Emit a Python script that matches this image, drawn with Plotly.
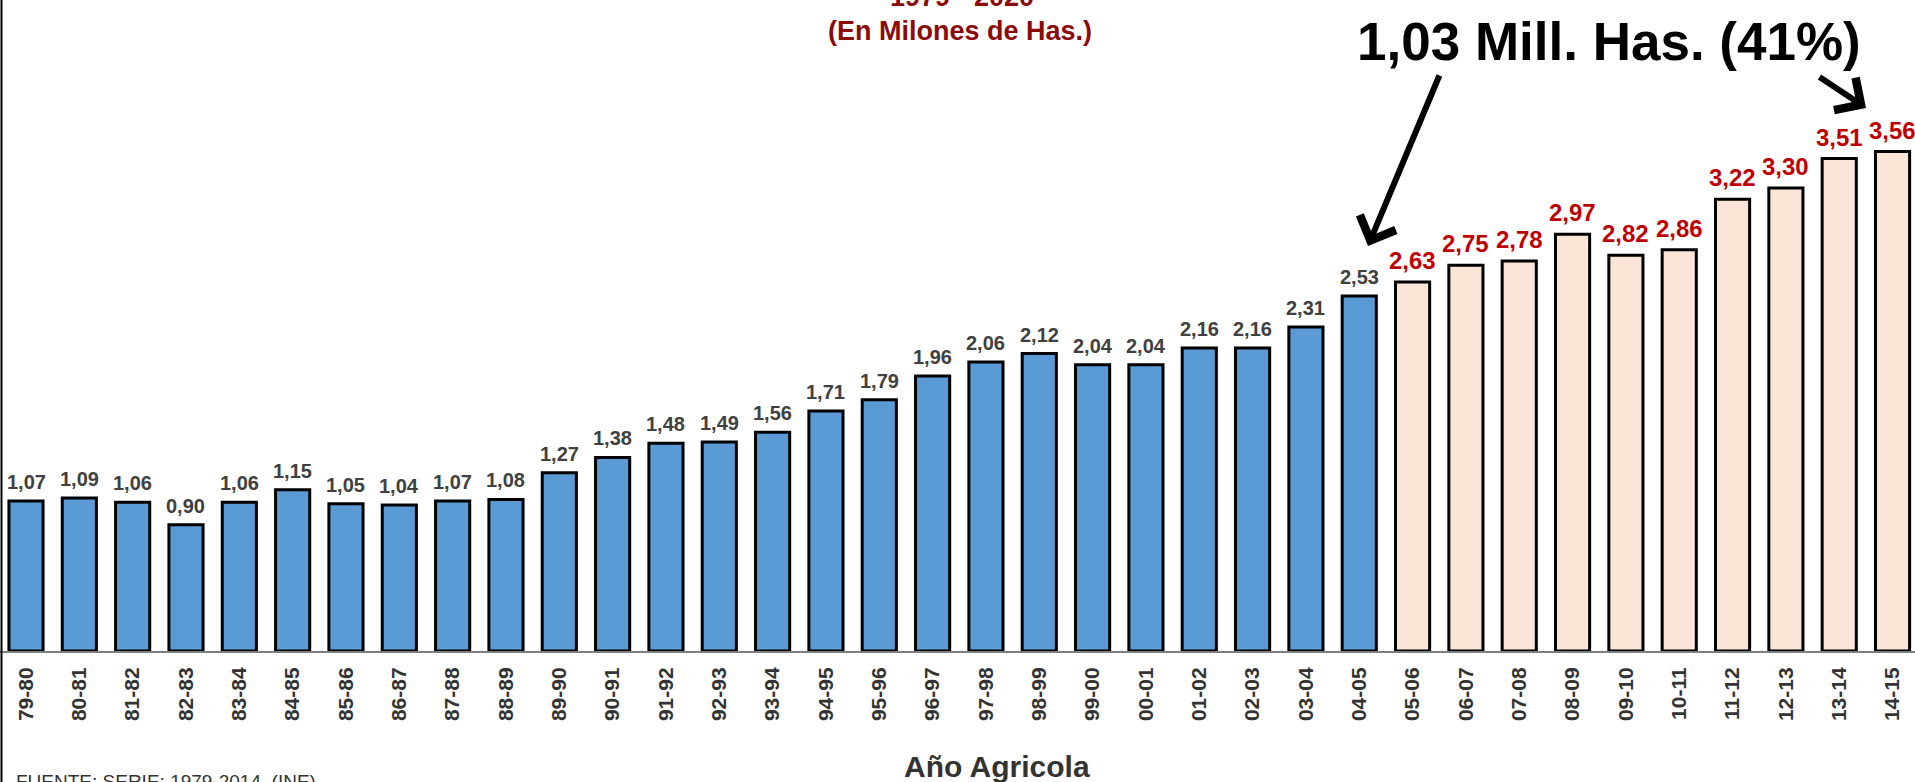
import plotly.graph_objects as go

# ---------------- data ----------------
campanas = ["79-80", "80-81", "81-82", "82-83", "83-84", "84-85", "85-86", "86-87",
            "87-88", "88-89", "89-90", "90-91", "91-92", "92-93", "93-94", "94-95",
            "95-96", "96-97", "97-98", "98-99", "99-00", "00-01", "01-02", "02-03",
            "03-04", "04-05", "05-06", "06-07", "07-08", "08-09", "09-10", "10-11",
            "11-12", "12-13", "13-14", "14-15"]
superficie = [1.07, 1.09, 1.06, 0.90, 1.06, 1.15, 1.05, 1.04, 1.07, 1.08, 1.27, 1.38,
              1.48, 1.49, 1.56, 1.71, 1.79, 1.96, 2.06, 2.12, 2.04, 2.04, 2.16, 2.16,
              2.31, 2.53, 2.63, 2.75, 2.78, 2.97, 2.82, 2.86, 3.22, 3.30, 3.51, 3.56]
n_hist = 26  # 79-80 .. 04-05 historical (blue); the rest highlighted

titulo_1 = "1979 - 2020"
titulo_2 = "(En Milones de Has.)"
destacado = "1,03 Mill. Has. (41%)"
eje_x = "Año Agricola"
fuente = "FUENTE: SERIE: 1979-2014. (INE)"

# ---------------- layout constants ----------------
W, H = 1915, 782
B = 131
PH = H - B  # plot height in px
FONT = "Liberation Sans, Arial, sans-serif"
BLUE = "#5B9BD5"
PEACH = "#FBE5D6"
GRAY_TXT = "#404040"
RED_TXT = "#C00000"
DARK_RED = "#8B0A0A"

def px(x):
    return x / W

def py(y):
    return 1 - y / PH

fig = go.Figure()
fig.add_trace(go.Bar(x=campanas[:n_hist], y=superficie[:n_hist],
                     marker=dict(color=BLUE, line=dict(color="black", width=3)),
                     hoverinfo="x+y"))
fig.add_trace(go.Bar(x=campanas[n_hist:], y=superficie[n_hist:],
                     marker=dict(color=PEACH, line=dict(color="black", width=3)),
                     hoverinfo="x+y"))

annotations = []
for i, (c, v) in enumerate(zip(campanas, superficie)):
    hist = i < n_hist
    annotations.append(dict(
        x=c, y=v, xref="x", yref="y", text="<b>" + f"{v:.2f}".replace(".", ",") + "</b>",
        showarrow=False, yanchor="bottom", yshift=6,
        font=dict(family=FONT, size=20 if hist else 24,
                  color=GRAY_TXT if hist else RED_TXT),
    ))

# titles
annotations.append(dict(x=px(962), y=py(-3), xref="paper", yref="paper", text=f"<b>{titulo_1}</b>",
                        showarrow=False, xanchor="center", yanchor="middle",
                        font=dict(family=FONT, size=27, color=DARK_RED)))
annotations.append(dict(x=px(960), y=py(31), xref="paper", yref="paper", text=f"<b>{titulo_2}</b>",
                        showarrow=False, xanchor="center", yanchor="middle",
                        font=dict(family=FONT, size=27, color=DARK_RED)))
annotations.append(dict(x=px(1609), y=py(42), xref="paper", yref="paper", text=f"<b>{destacado}</b>",
                        showarrow=False, xanchor="center", yanchor="middle",
                        font=dict(family=FONT, size=53, color="black")))
annotations.append(dict(x=px(997), y=py(766), xref="paper", yref="paper", text=f"<b>{eje_x}</b>",
                        showarrow=False, xanchor="center", yanchor="middle",
                        font=dict(family=FONT, size=30, color="#333333")))
annotations.append(dict(x=px(14), y=py(781), xref="paper", yref="paper", text=fuente,
                        showarrow=False, xanchor="left", yanchor="middle",
                        font=dict(family=FONT, size=19, color="#333333")))

# arrows
annotations.append(dict(x=px(1368), y=py(246), xref="paper", yref="paper", text="",
                        showarrow=True, arrowhead=4, arrowsize=1.25, arrowwidth=6,
                        arrowcolor="black", ax=1440 - 1368, ay=74 - 246))
annotations.append(dict(x=px(1866), y=py(108), xref="paper", yref="paper", text="",
                        showarrow=True, arrowhead=4, arrowsize=1.25, arrowwidth=6,
                        arrowcolor="black", ax=1818 - 1866, ay=76 - 108))

# x range so that bar centres land where the reference puts them
step = 53.33
r0 = -26 / step
r1 = r0 + W / step

fig.update_layout(
    width=W, height=H,
    margin=dict(l=0, r=0, t=0, b=B, pad=0),
    paper_bgcolor="white", plot_bgcolor="white",
    barmode="overlay", bargap=0.36,
    showlegend=False,
    separators=",.",
    xaxis=dict(type="category", range=[r0, r1], showgrid=False, zeroline=False,
               showline=True, linecolor="#7f7f7f", linewidth=2,
               tickangle=-90, ticks="", ticklabelstandoff=6,
               tickfont=dict(family=FONT, size=21, color="#333333", weight="bold")),
    yaxis=dict(range=[0, PH / 140.3], visible=False, showgrid=False, zeroline=False),
    annotations=annotations,
    shapes=[dict(type="line", xref="paper", yref="paper", x0=px(1.5), x1=px(1.5),
                 y0=py(H), y1=py(0), line=dict(color="black", width=2))],
)

fig.write_html("out.html", config={"displayModeBar": False},
               post_script="document.body.style.margin='0';document.body.style.overflow='hidden';")
